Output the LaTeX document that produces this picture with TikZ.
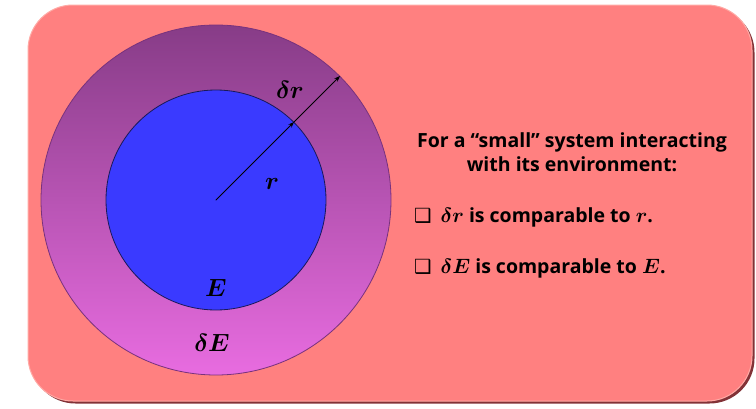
\documentclass[tikz,border=0pt]{standalone}
\usepackage{fontspec}
\setsansfont{Open Sans}
\newfontfamily\symfont{DejaVu Sans}
\usetikzlibrary{arrows.meta}

\definecolor{panel}{RGB}{255,128,128}
\definecolor{panelrim}{RGB}{255,170,165}
\definecolor{panelshade}{RGB}{130,50,55}
\definecolor{shelltop}{RGB}{135,60,135}
\definecolor{shellbot}{RGB}{232,108,224}
\definecolor{shelledge}{RGB}{120,50,125}
\definecolor{core}{RGB}{58,58,255}
\definecolor{coreedge}{RGB}{25,25,90}

\begin{document}
\begin{tikzpicture}[x=1pt, y=-1pt, line cap=round, line join=round,
  mathlbl/.style={inner sep=0pt, font=\fontsize{24}{28}\selectfont\boldmath},
  notetxt/.style={inner sep=0pt, font=\sffamily\bfseries\fontsize{19.5}{24}\selectfont\boldmath},
  ray/.style={line width=1pt, -{Stealth[length=6pt,width=4.5pt]}}]

  %% ════ 底板 ════
  \fill[panelshade, rounded corners=45pt] (30.5,7.5) rectangle (754.5,403.5);
  \fill[panel, draw=panelrim, line width=1pt, rounded corners=45pt] (28,5) rectangle (752,401);

  %% ════ 两个圆 ════
  \node[circle, minimum size=350pt, inner sep=0pt, top color=shelltop, bottom color=shellbot,
        draw=shelledge, line width=0.8pt] (shell) at (216,200) {};
  \node[circle, minimum size=220pt, inner sep=0pt, fill=core, draw=coreedge, line width=0.8pt] (core) at (216,200) {};

  %% ════ 半径箭头 ════
  \draw[ray] (core.center) -- (core.45);
  \draw[ray] (core.45) -- (shell.45);

  %% ════ 圆内标签 ════
  \node[mathlbl] (dr) at (290,90) {$\delta r$};
  \node[mathlbl, font=\fontsize{29}{32}\selectfont\boldmath] (rr) at (272,184) {$r$};
  \node[mathlbl] (ee) at (216,288) {$E$};
  \node[mathlbl] (de) at (212,343) {$\delta E$};

  %% ════ 右侧文字 ════
  \node[notetxt, align=center] (intro) at (572,152) {For a “small” system interacting\\with its environment:};
  \node[notetxt, anchor=west] (itemr) at (414,217) {{\symfont ❑}\hspace{9pt}$\delta r$ is comparable to $r$.};
  \node[notetxt, anchor=west] (iteme) at (414,268) {{\symfont ❑}\hspace{9pt}$\delta E$ is comparable to $E$.};

  \pgfresetboundingbox
  \path[use as bounding box] (0,0) rectangle (756,408);
\end{tikzpicture}
\end{document}
